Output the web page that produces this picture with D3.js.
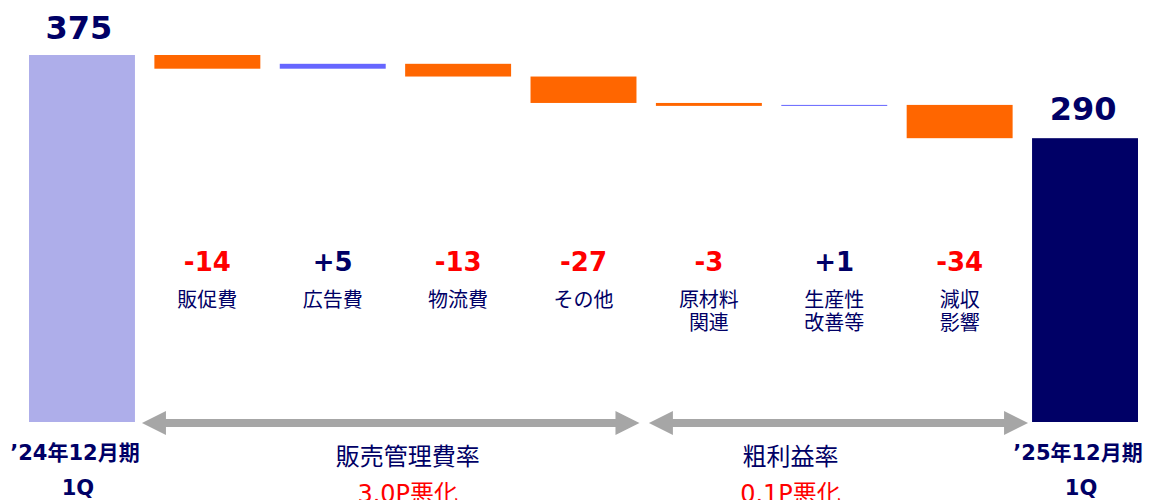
<!DOCTYPE html>
<html>
<head>
<meta charset="utf-8">
<script src="https://cdn.jsdelivr.net/npm/d3@7"></script>
<style>
  html, body { margin: 0; padding: 0; background: #fff; }
  svg { display: block; }
  text { font-family: "DejaVu Sans", "Noto Sans CJK JP", sans-serif; }
</style>
</head>
<body>
<svg id="chart" width="1153" height="500"></svg>
<script>
// chart data
const categories = ["start", "販促費", "広告費", "物流費", "その他", "原材料|関連", "生産性|改善等", "減収|影響", "end"];
const startValue = 375;
const endValue = 290;
const deltas = [-14, 5, -13, -27, -3, 1, -34];
const deltaLabels = ["-14", "+5", "-13", "-27", "-3", "+1", "-34"];
const periodLabels = ["’24年12月期|1Q", "’25年12月期|1Q"];
const groupLabels = ["販売管理費率", "粗利益率"];
const groupNotes = ["3.0P悪化", "0.1P悪化"];

const svg = d3.select("#chart");

const x = d3.scaleBand()
    .domain(categories)
    .range([29, 1138])
    .paddingInner(0.155)
    .paddingOuter(0);

const y = d3.scaleLinear()
    .domain([0, startValue])
    .range([422, 55]);

const bw = x.bandwidth();
const navy = "#000066";

// build waterfall steps
let running = startValue;
const steps = deltas.map((d, i) => {
    const from = running;
    running += d;
    return {cat: categories[i + 1], from: from, to: running, d: d, label: deltaLabels[i]};
});

// total bars
svg.append("rect")
    .attr("x", x("start")).attr("y", y(startValue))
    .attr("width", bw).attr("height", y(0) - y(startValue))
    .attr("fill", "#aeaeea");

svg.append("rect")
    .attr("x", x("end")).attr("y", y(endValue))
    .attr("width", bw).attr("height", y(0) - y(endValue))
    .attr("fill", navy);

// step bars
svg.selectAll(".step")
    .data(steps)
    .join("rect")
    .attr("class", "step")
    .attr("x", d => x(d.cat))
    .attr("y", d => y(Math.max(d.from, d.to)))
    .attr("width", bw)
    .attr("height", d => Math.max(1, Math.abs(y(d.from) - y(d.to))))
    .attr("fill", d => d.d < 0 ? "#ff6600" : "#6666ff");

// total value labels
svg.append("text")
    .attr("x", x("start") + bw / 2 - 3).attr("y", y(startValue) - 16)
    .attr("text-anchor", "middle")
    .attr("font-size", 32).attr("font-weight", "bold")
    .attr("fill", navy)
    .text(startValue);

svg.append("text")
    .attr("x", x("end") + bw / 2 - 2).attr("y", y(endValue) - 18)
    .attr("text-anchor", "middle")
    .attr("font-size", 32).attr("font-weight", "bold")
    .attr("fill", navy)
    .text(endValue);

// delta labels
svg.selectAll(".dlabel")
    .data(steps)
    .join("text")
    .attr("class", "dlabel")
    .attr("x", d => x(d.cat) + bw / 2)
    .attr("y", 271)
    .attr("text-anchor", "middle")
    .attr("font-size", 26).attr("font-weight", "bold")
    .attr("fill", d => d.d < 0 ? "#ff0000" : navy)
    .text(d => d.label);

// category labels (two lines max)
const cats = svg.selectAll(".clabel")
    .data(steps)
    .join("text")
    .attr("class", "clabel")
    .attr("text-anchor", "middle")
    .attr("font-size", 20)
    .attr("fill", navy);

cats.selectAll("tspan")
    .data(d => d.cat.split("|").map(t => ({t: t, cx: x(d.cat) + bw / 2})))
    .join("tspan")
    .attr("x", d => d.cx)
    .attr("y", (d, i) => 307 + i * 23)
    .text(d => d.t);

// period labels under total bars
["start", "end"].forEach((c, k) => {
    const t = svg.append("text")
        .attr("text-anchor", "middle")
        .attr("font-size", 21).attr("font-weight", "bold")
        .attr("fill", navy);
    periodLabels[k].split("|").forEach((line, i) => {
        t.append("tspan")
            .attr("x", x(c) + bw / 2 - 7 + i * 3)
            .attr("y", 460 + i * 35)
            .text(line);
    });
});

// double arrows
function doubleArrow(x1, x2, yy) {
    const head = 24, hh = 12, sh = 4;
    const pts = [
        [x1, yy], [x1 + head, yy - hh], [x1 + head, yy - sh],
        [x2 - head, yy - sh], [x2 - head, yy - hh], [x2, yy],
        [x2 - head, yy + hh], [x2 - head, yy + sh],
        [x1 + head, yy + sh], [x1 + head, yy + hh]
    ];
    svg.append("path")
        .attr("d", d3.line()(pts) + "Z")
        .attr("fill", "#a6a6a6");
}

const arrowY = 423;
const a1 = [x("start") + bw + 7, x("その他") + bw + 3];
const a2 = [x("原材料|関連") - 7, x("end") - 4];
doubleArrow(a1[0], a1[1], arrowY);
doubleArrow(a2[0], a2[1], arrowY);

// group labels
const groupCenters = [(a1[0] + a1[1]) / 2 + 17, (a2[0] + a2[1]) / 2 - 48];
groupLabels.forEach((g, i) => {
    svg.append("text")
        .attr("x", groupCenters[i]).attr("y", 465)
        .attr("text-anchor", "middle")
        .attr("font-size", 24)
        .attr("fill", navy)
        .text(g);
    svg.append("text")
        .attr("x", groupCenters[i]).attr("y", 502)
        .attr("text-anchor", "middle")
        .attr("font-size", 24)
        .attr("fill", "#ff0000")
        .text(groupNotes[i]);
});
</script>
</body>
</html>
